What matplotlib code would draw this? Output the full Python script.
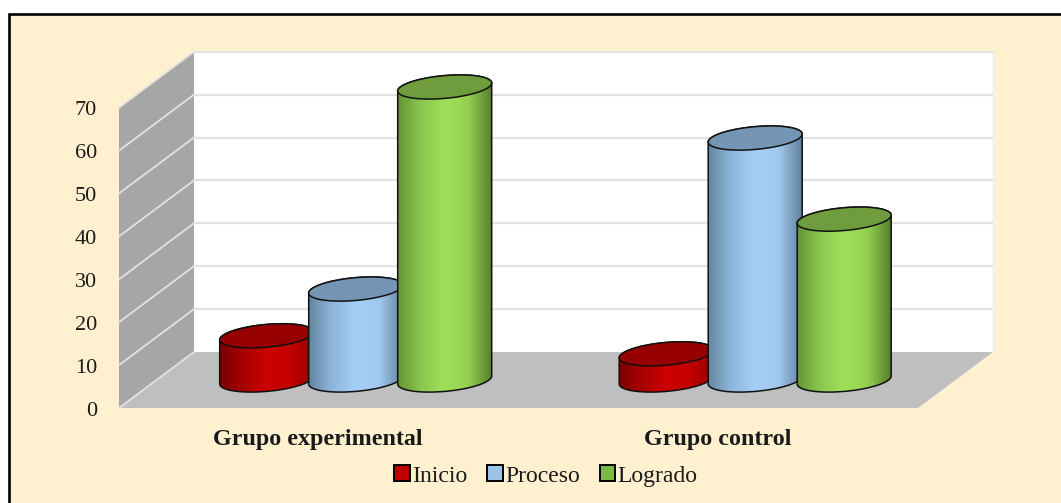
import numpy as np
import matplotlib
matplotlib.use("Agg")
import matplotlib.pyplot as plt
from matplotlib.colors import LinearSegmentedColormap
from matplotlib.patches import Patch, Polygon, Rectangle

groups = ["Grupo experimental", "Grupo control"]
series = ["Inicio", "Proceso", "Logrado"]
inicio = [10.3, 6.1]
proceso = [21.2, 56.4]
logrado = [68.3, 37.5]
ticks = [0, 10, 20, 30, 40, 50, 60, 70]

side_colors = [
    ["#7a0000", "#a80000", "#cc0000", "#c40000", "#960000"],
    ["#64869f", "#8fb6dc", "#a6cff5", "#a0c8ee", "#62829f"],
    ["#649434", "#8cc850", "#9fe05a", "#94d052", "#567f2b"],
]
top_colors = ["#960000", "#7595b5", "#6f9c3c"]
legend_colors = ["#c00000", "#9dc3e6", "#7cb845"]

# one px in data units, x = group index, y = value on the middle depth plane
PX_X = 1 / 399.5
PX_Y = 1 / 4.29
bar_w = 94 * PX_X
pitch = 89 * PX_X
depth_x = 37.5 * PX_X
depth_y = 28 * PX_Y
ell_b = 11.4 * PX_Y
ell_k = 4 * PX_Y
x_left = (156.5 - 355.7) * PX_X
x_right = (955.5 - 355.7) * PX_X
ymax = ticks[-1]

plt.rcParams["font.family"] = ["Liberation Serif", "DejaVu Serif"]

fig = plt.figure(figsize=(10.61, 5.03), dpi=100, facecolor="white")
ax = fig.add_axes([0, 0, 1, 1])
ax.set_xlim(-355.7 * PX_X, (1061 - 355.7) * PX_X)
ax.set_ylim(-123 * PX_Y, 380 * PX_Y)
ax.axis("off")


def front(x, v):
    return x - depth_x, v - depth_y


def back(x, v):
    return x + depth_x, v + depth_y


# chart area with border
x0, x1 = ax.get_xlim()
y0, y1 = ax.get_ylim()
bx = x0 + 9 * PX_X
by = y1 - 14 * PX_Y
ax.add_patch(Rectangle((bx, y0), x1 - bx, by - y0, fc="#fff0cf", ec="none", zorder=0))
ax.plot([bx, bx, x1], [y0, by, by], color="black", lw=1.9, zorder=1, solid_joinstyle="miter")

# walls
gl = "#e2e2e2"
ax.add_patch(Polygon([front(x_left, 0), back(x_left, 0), back(x_left, ymax), front(x_left, ymax)],
                     fc="#a6a6a6", ec="none", zorder=2))
ax.add_patch(Polygon([back(x_left, 0), back(x_right, 0), back(x_right, ymax), back(x_left, ymax)],
                     fc="white", ec="none", zorder=2))
ax.add_patch(Polygon([front(x_left, 0), back(x_left, 0), back(x_right, 0), front(x_right, 0)],
                     fc="#bfbfbf", ec="none", zorder=2))
for t in ticks:
    fx, fy = front(x_left, t)
    bkx, bky = back(x_left, t)
    ax.plot([fx, bkx], [fy, bky], color=gl, lw=1.3, zorder=3)
    if t > 0:
        ax.plot([bkx, back(x_right, t)[0]], [bky, bky], color=gl, lw=1.6, zorder=3)
    ax.text(fx - 22 * PX_X, fy - 3 * PX_Y, str(t), ha="right", va="center",
            fontsize=16, color="#1a1a1a", zorder=3)
ax.plot([back(x_right, 0)[0]] * 2, [depth_y, ymax + depth_y], color="#ececec", lw=1, zorder=3)


def ellipse(cx, cy, t):
    return cx + bar_w / 2 * np.cos(t), cy + ell_b * np.sin(t) + ell_k * np.cos(t)


def cylinder(cx, v, colors, top, z):
    # body outline: front half of the base, back up the sides to the top
    t_low = np.linspace(np.pi, 2 * np.pi, 80)
    t_up = np.linspace(0, np.pi, 80)
    lx, ly = ellipse(cx, 0, t_low)
    ux, uy = ellipse(cx, v, t_up)
    body = np.column_stack([np.r_[lx, ux], np.r_[ly, uy]])
    cmap = LinearSegmentedColormap.from_list("side", colors)
    grad = np.linspace(0, 1, 256).reshape(1, -1)
    poly = Polygon(body, closed=True, fc="none", ec="none", zorder=z, transform=ax.transData)
    ax.add_patch(poly)
    im = ax.imshow(grad, cmap=cmap, aspect="auto", zorder=z,
                   extent=[cx - bar_w / 2, cx + bar_w / 2, -ell_b * 2, v + ell_b * 2])
    im.set_clip_path(poly)
    ax.add_patch(Polygon(body, closed=True, fc="none", ec="#111111", lw=1.1, zorder=z + 0.1))
    # top ellipse
    tt = np.linspace(0, 2 * np.pi, 160)
    ex, ey = ellipse(cx, v, tt)
    ax.add_patch(Polygon(np.column_stack([ex, ey]), closed=True, fc=top, ec="#111111", lw=1.1, zorder=z + 0.2))


values = [inicio, proceso, logrado]
z = 5
for g in range(len(groups)):
    for s in range(len(series)):
        cylinder(g + (s - 1) * pitch, values[s][g], side_colors[s], top_colors[s], z)
        z += 1
    ax.text(g - depth_x, -(439 - 380) * PX_Y, groups[g], ha="center", va="center",
            fontsize=17.3, fontweight="bold", color="#1a1a1a", zorder=3)

ax.set_xlim(x0, x1)
ax.set_ylim(y0, y1)

handles = [Patch(fc=c, ec="black", lw=1.4) for c in legend_colors]
ax.legend(handles, series, loc="center", ncol=3, frameon=False, fontsize=17,
          bbox_to_anchor=(546 / 1061, 1 - 476 / 503), handlelength=0.65, handleheight=0.65,
          handletextpad=0.1, columnspacing=0.85, labelcolor="#1a1a1a",
          borderpad=0, borderaxespad=0)

fig.savefig("out.png", dpi=100, facecolor="white")
